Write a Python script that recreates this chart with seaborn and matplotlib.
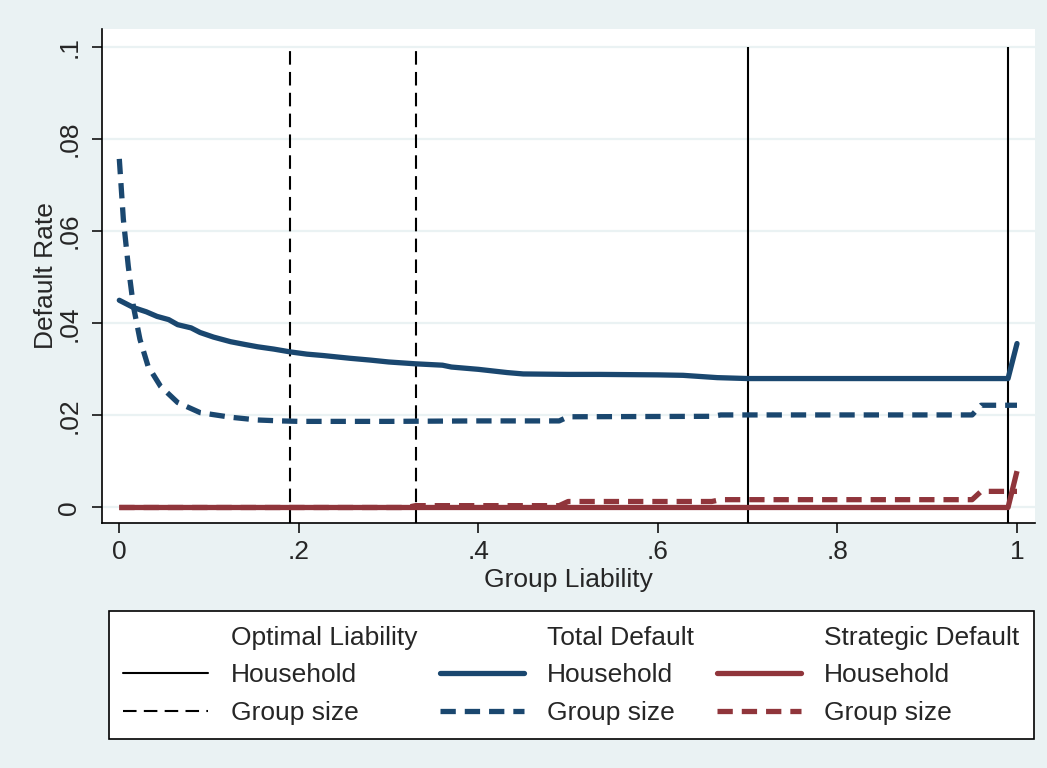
import matplotlib
matplotlib.use("Agg")
import matplotlib.pyplot as plt
from matplotlib.lines import Line2D
import seaborn as sns
import pandas as pd

# ---------------- data ----------------
# Optimal liability (vertical reference lines)
opt_household = [0.70, 0.99]
opt_groupsize = [0.19, 0.33]

# Total default, household model
tot_hh_x = [0.0, 0.016, 0.03, 0.042, 0.055, 0.065, 0.08, 0.09, 0.105, 0.124, 0.14, 0.154, 0.172,
            0.19, 0.209, 0.227, 0.257, 0.28, 0.30, 0.33, 0.36, 0.37, 0.40, 0.432, 0.45, 0.50,
            0.536, 0.60, 0.628, 0.666, 0.70, 0.80, 0.90, 0.99, 1.0]
tot_hh_y = [0.0450, 0.0434, 0.0425, 0.0415, 0.0408, 0.0397, 0.0390, 0.0380, 0.0370, 0.0360, 0.0354,
            0.0349, 0.0344, 0.0338, 0.0333, 0.0330, 0.0324, 0.0320, 0.0316, 0.0312, 0.0309, 0.0305,
            0.0300, 0.0293, 0.0290, 0.0289, 0.0289, 0.0288, 0.0287, 0.0282, 0.0280, 0.0280,
            0.0280, 0.0280, 0.0356]

# Total default, group size model
tot_gs_x = [0.0, 0.0045, 0.01, 0.0157, 0.023, 0.032, 0.046, 0.065, 0.09, 0.124, 0.154, 0.18,
            0.20, 0.30, 0.40, 0.49, 0.50, 0.66, 0.67, 0.95, 0.96, 1.0]
tot_gs_y = [0.0757, 0.0626, 0.0524, 0.0437, 0.0365, 0.0307, 0.0263, 0.0228, 0.0206, 0.0196,
            0.0190, 0.0188, 0.0187, 0.0187, 0.0188, 0.0188, 0.0197, 0.0198, 0.0201, 0.0201,
            0.0222, 0.0222]

# Strategic default, household model
str_hh_x = [0.0, 0.20, 0.40, 0.60, 0.80, 0.99, 1.0]
str_hh_y = [0.0, 0.0, 0.0, 0.0, 0.0, 0.0, 0.0079]

# Strategic default, group size model
str_gs_x = [0.0, 0.32, 0.33, 0.49, 0.50, 0.66, 0.67, 0.95, 0.96, 1.0]
str_gs_y = [0.0, 0.0, 0.0004, 0.0004, 0.0013, 0.0013, 0.0017, 0.0017, 0.0035, 0.0035]

x_ticks = [0, 0.2, 0.4, 0.6, 0.8, 1.0]
x_ticklabels = ["0", ".2", ".4", ".6", ".8", "1"]
y_ticks = [0, 0.02, 0.04, 0.06, 0.08, 0.1]
y_ticklabels = ["0", ".02", ".04", ".06", ".08", ".1"]

# ---------------- style ----------------
sns.set_theme(style="white")
plt.rcParams["font.family"] = ["Liberation Sans", "DejaVu Sans"]

BG = "#EAF2F3"
NAVY = "#1A476F"
MAROON = "#90353B"
FS = 19
LW = 3.8

fig = plt.figure(figsize=(10.47, 7.68), dpi=100, facecolor=BG)
ax = fig.add_axes([0.0974, 0.319, 0.8911, 0.6432])
ax.set_facecolor("white")

xlim = (-0.0193, 1.020)
ylim = (-0.00337, 0.1039)

# grid lines
for yt in y_ticks:
    ax.axhline(yt, color=BG, lw=1.6, zorder=0)

# vertical optimal-liability lines
ax.vlines(opt_household, ylim[0], 0.1, colors="black", lw=1.5, zorder=2)
ax.vlines(opt_groupsize, ylim[0], 0.1, colors="black", lw=1.5, linestyles=(0, (6.5, 3.5)), zorder=2)

def series(x, y):
    return pd.DataFrame({"liability": x, "rate": y})

gs_dash = (0, (2.9, 1.7))
sns.lineplot(data=series(str_hh_x, str_hh_y), x="liability", y="rate", ax=ax,
             color=MAROON, lw=LW, zorder=3, solid_capstyle="butt")
sns.lineplot(data=series(str_gs_x, str_gs_y), x="liability", y="rate", ax=ax,
             color=MAROON, lw=LW, linestyle=gs_dash, zorder=3)
sns.lineplot(data=series(tot_hh_x, tot_hh_y), x="liability", y="rate", ax=ax,
             color=NAVY, lw=LW, zorder=4, solid_capstyle="round")
sns.lineplot(data=series(tot_gs_x, tot_gs_y), x="liability", y="rate", ax=ax,
             color=NAVY, lw=LW, linestyle=gs_dash, zorder=4)

ax.set_xlim(*xlim)
ax.set_ylim(*ylim)
ax.set_xticks(x_ticks)
ax.set_xticklabels(x_ticklabels, fontsize=FS)
ax.set_yticks(y_ticks)
ax.set_yticklabels(y_ticklabels, fontsize=FS, rotation=90, va="center")
ax.tick_params(axis="both", direction="out", length=7, width=1.1, color="black",
               left=True, bottom=True)
ax.tick_params(axis="x", pad=5)
ax.tick_params(axis="y", pad=8)

for s in ["top", "right"]:
    ax.spines[s].set_visible(False)
for s in ["left", "bottom"]:
    ax.spines[s].set_color("black")
    ax.spines[s].set_linewidth(1.2)

ax.set_xlabel("Group Liability", fontsize=FS, labelpad=3)
ax.set_ylabel("Default Rate", fontsize=FS)
ax.yaxis.set_label_coords(-0.047, 0.5)

# ---------------- legend ----------------
blank = Line2D([], [], linestyle="none")
handles = [
    blank,
    Line2D([], [], color="black", lw=1.5),
    Line2D([], [], color="black", lw=1.5, linestyle=(0, (6.5, 3.5))),
    blank,
    Line2D([], [], color=NAVY, lw=LW),
    Line2D([], [], color=NAVY, lw=LW, linestyle=gs_dash),
    blank,
    Line2D([], [], color=MAROON, lw=LW),
    Line2D([], [], color=MAROON, lw=LW, linestyle=gs_dash),
]
labels = ["Optimal Liability", "Household", "Group size",
          "Total Default", "Household", "Group size",
          "Strategic Default", "Household", "Group size"]
leg = fig.legend(handles, labels, ncol=3, loc="upper left",
                 bbox_to_anchor=(0.104, 0.2044), bbox_transform=fig.transFigure,
                 borderaxespad=0, fontsize=FS, frameon=True, fancybox=False,
                 edgecolor="black", framealpha=1.0, handlelength=3.2, handletextpad=0.87,
                 columnspacing=0.85, labelspacing=0.52, borderpad=0.55)
leg.get_frame().set_linewidth(1.2)
leg.get_frame().set_facecolor("white")

fig.savefig("out.png", dpi=100, facecolor=BG)
